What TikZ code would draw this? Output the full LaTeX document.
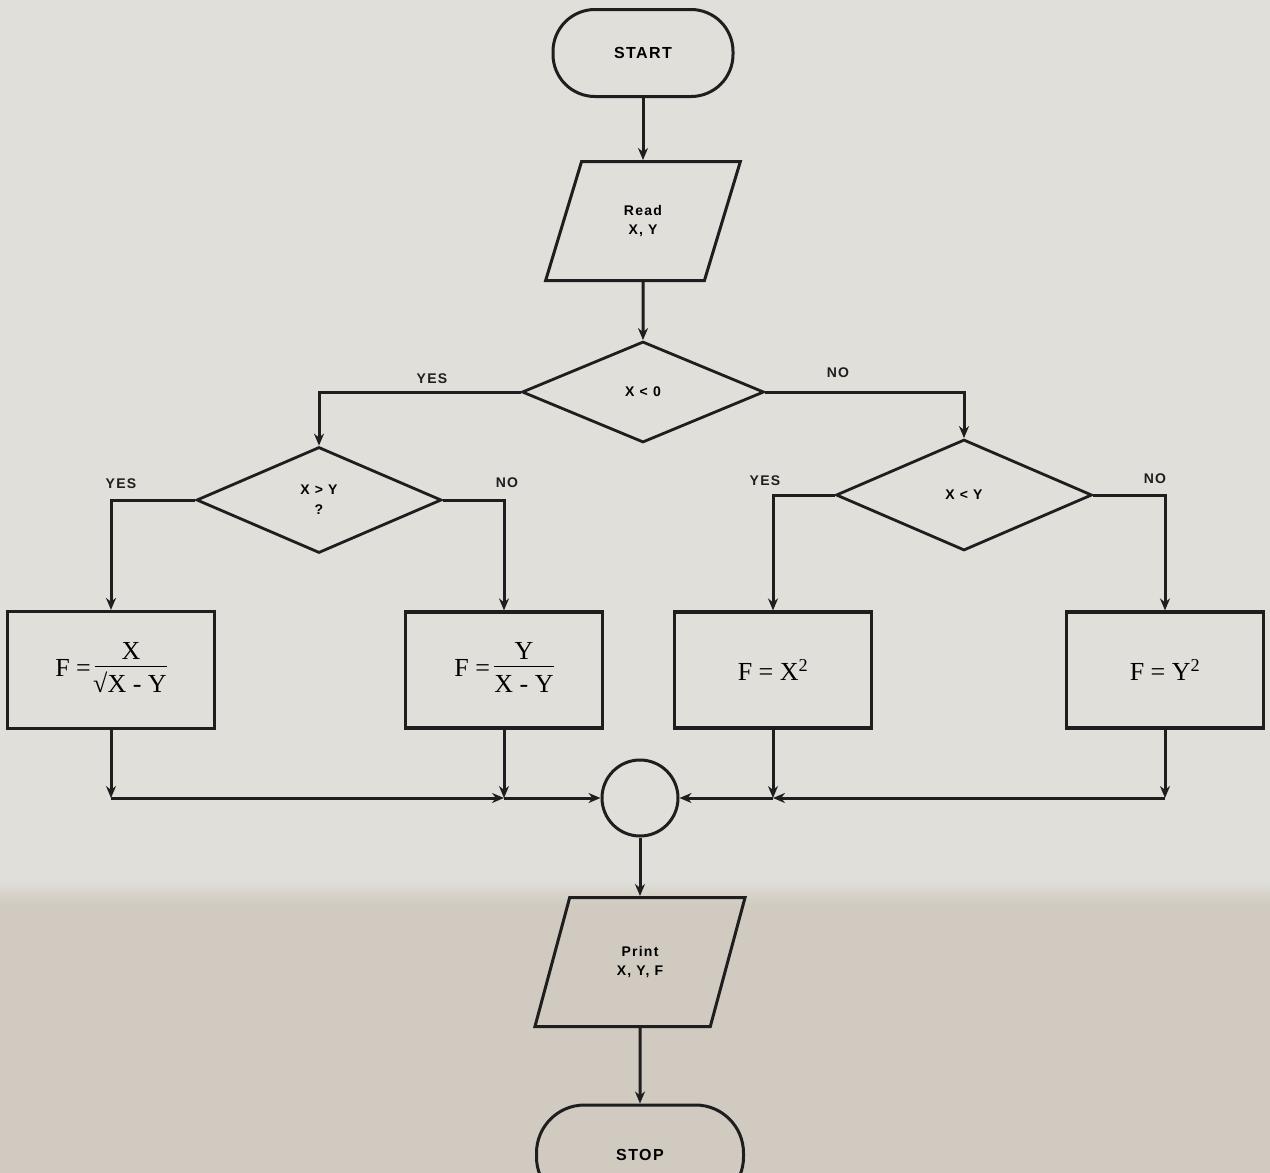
\documentclass[tikz,border=0pt]{standalone}
\usepackage{fontspec}
\setmainfont{Liberation Serif}
\newfontfamily\labfont[LetterSpace=9]{Liberation Sans}
\usetikzlibrary{shapes.geometric,shapes.misc,arrows.meta}
\definecolor{paper}{RGB}{224,223,218}
\definecolor{paperlow}{RGB}{208,202,192}
\definecolor{ink}{RGB}{30,30,30}
\tikzset{
  terminal/.style={draw=ink,line width=3pt,rectangle,rounded corners=42pt,font=\labfont\bfseries\fontsize{16}{18}\selectfont},
  iobox/.style={draw=ink,line width=3pt,trapezium,trapezium left angle=71,trapezium right angle=109,trapezium stretches=true,align=center,font=\labfont\bfseries\fontsize{14}{19}\selectfont},
  decision/.style={draw=ink,line width=2.8pt,diamond,align=center,font=\labfont\bfseries\fontsize{14}{20}\selectfont,inner sep=0pt},
  procbox/.style={draw=ink,line width=3.2pt,rectangle,minimum width=197pt,minimum height=116pt,font=\fontsize{26}{30}\selectfont},
  joinc/.style={draw=ink,line width=3pt,circle,minimum size=76pt,inner sep=0pt},
  lab/.style={font=\labfont\bfseries\fontsize{14}{16}\selectfont,text=ink},
  arr/.style={draw=ink,line width=3pt,-{Stealth[length=12pt,width=10pt]}},
}
\begin{document}
\begin{tikzpicture}[x=1pt,y=-1pt]
\useasboundingbox (0,0) rectangle (1270,1173);
\clip (0,0) rectangle (1270,1173);
\fill[paper] (0,0) rectangle (1270,1173);
\fill[paperlow] (0,905) rectangle (1270,1173);
\shade[top color=paper,bottom color=paperlow] (0,880) rectangle (1270,905);

\node[terminal,minimum width=180pt,minimum height=87pt] (start) at (643,53) {START};
\node[iobox,minimum width=195pt,minimum height=119pt] (read) at (643,221) {Read\\X, Y};
\node[decision,minimum width=242pt,minimum height=101pt] (d1) at (643,392) {X < 0};
\node[decision,minimum width=245pt,minimum height=106pt] (d2) at (319,500) {X > Y\\?};
\node[decision,minimum width=256pt,minimum height=111pt] (d3) at (964,495) {X < Y};

\node[procbox,minimum width=207pt,minimum height=117pt] (b1) at (111,670) {F =\,\begin{tabular}[c]{@{}c@{}}X\\[-2pt]\hline\rule{0pt}{26pt}\kern-2pt√X - Y\end{tabular}};
\node[procbox] (b2) at (504,670) {F =\,\begin{tabular}[c]{@{}c@{}}Y\\[-2pt]\hline\rule{0pt}{26pt}X - Y\end{tabular}};
\node[procbox] (b3) at (773,670) {F = X\textsuperscript{2}};
\node[procbox] (b4) at (1165,670) {F = Y\textsuperscript{2}};

\node[joinc] (conn) at (640,798) {};
\node[iobox,minimum width=211pt,minimum height=129pt] (print) at (640,962) {Print\\X, Y, F};
\node[terminal,minimum width=207pt,minimum height=100pt,rounded corners=48pt] (stop) at (640,1155) {STOP};

\coordinate (j1) at (b1.south |- conn.west);
\coordinate (j2) at (b2.south |- conn.west);
\coordinate (j3) at (b3.south |- conn.east);
\coordinate (j4) at (b4.south |- conn.east);

\draw[arr] (start) -- (read);
\draw[arr] (read) -- (d1);
\draw[arr] (d1.west) -| (d2.north);
\draw[arr] (d1.east) -| (d3.north);
\draw[arr] (d2.west) -| (b1.north);
\draw[arr] (d2.east) -| (b2.north);
\draw[arr] (d3.west) -| (b3.north);
\draw[arr] (d3.east) -| (b4.north);
\draw[arr] (b1.south) -- (j1);
\draw[arr] (b2.south) -- (j2);
\draw[arr] (b3.south) -- (j3);
\draw[arr] (b4.south) -- (j4);
\draw[arr] (j1) -- (j2);
\draw[arr] (j2) -- (conn.west);
\draw[arr] (j4) -- (j3);
\draw[arr] (j3) -- (conn.east);
\draw[arr] (conn) -- (print);
\draw[arr] (print) -- (stop);

\node[lab] (l1) at (432,379) {YES};
\node[lab] (l2) at (838,373) {NO};
\node[lab] (l3) at (121,484) {YES};
\node[lab] (l4) at (507,483) {NO};
\node[lab] (l5) at (765,481) {YES};
\node[lab] (l6) at (1155,479) {NO};
\end{tikzpicture}
\end{document}
